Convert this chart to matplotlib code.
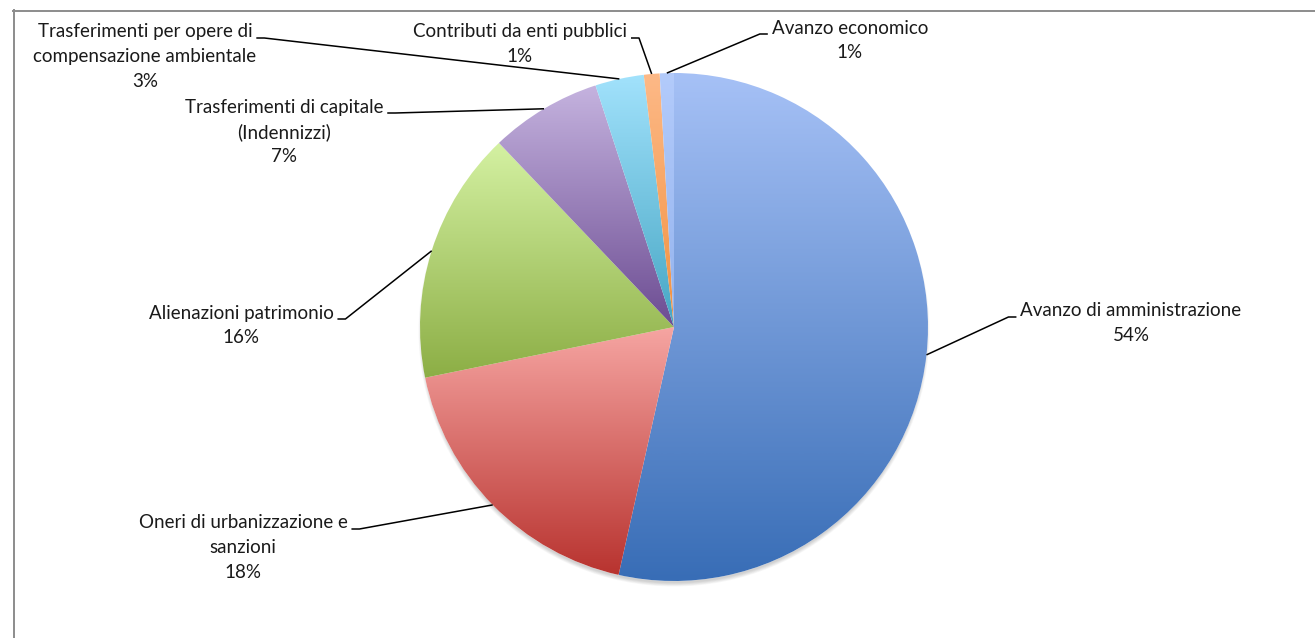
import numpy as np
import matplotlib
matplotlib.use("Agg")
import matplotlib.pyplot as plt
from matplotlib.colors import LinearSegmentedColormap
from matplotlib.patches import Circle
from matplotlib.lines import Line2D

# data (percent shares)
labels = ["Avanzo di amministrazione",
          "Oneri di urbanizzazione e\nsanzioni",
          "Alienazioni patrimonio",
          "Trasferimenti di capitale\n(Indennizzi)",
          "Trasferimenti per opere di\ncompensazione ambientale",
          "Contributi da enti pubblici",
          "Avanzo economico"]
values = [53.5, 18.3, 16.1, 7.1, 3.1, 1.0, 0.9]

# gradient colours, top -> bottom of each slice
top_colors = ["#a6c1f6", "#f6a5a2", "#d4f1a2", "#c5b3df", "#a2e2fc", "#fdb987", "#b3cbfb"]
bot_colors = ["#386db6", "#b8332f", "#8cae45", "#6c4c92", "#46a6c4", "#f2913f", "#93b3ee"]

# label placement in pixels (centre x, first-line y), side of leader line
label_pos = [(1131, 311, "left"), (243, 523, "right"), (241, 313, "right"),
             (284, 107, "right"), (145, 32, "right"), (520, 32, "right"),
             (850, 28, "left")]

W, H = 1315, 638
cx, cy, R = 674, 327, 254

fig = plt.figure(figsize=(W / 100, H / 100), dpi=100)
ax = fig.add_axes([0, 0, 1, 1])
ax.set_axis_off()

# soft shadow under the pie
for i in range(6):
    ax.add_patch(Circle((cx, H - cy - 4), R - 2 + i * 0.7, color="#000000",
                        alpha=0.03, lw=0, zorder=1))
ax.add_patch(Circle((cx, H - cy), R, color="white", lw=0, zorder=1.5))

wedges, _ = ax.pie(values, startangle=90, counterclock=False,
                   center=(cx, H - cy), radius=R,
                   wedgeprops=dict(linewidth=0))

grad = np.linspace(0, 1, 256).reshape(-1, 1)
for w, c0, c1 in zip(wedges, top_colors, bot_colors):
    w.set_facecolor("none")
    w.set_edgecolor("none")
    bb = w.get_path().get_extents()
    cmap = LinearSegmentedColormap.from_list("g", [c0, c1])
    im = ax.imshow(grad, cmap=cmap, extent=(bb.x0, bb.x1, bb.y0, bb.y1),
                   origin="upper", aspect="auto", interpolation="bicubic", zorder=2)
    im.set_clip_path(w)

ax.set_xlim(0, W)
ax.set_ylim(0, H)
ax.set_aspect("equal")

# labels and leader lines
fig.canvas.draw()
renderer = fig.canvas.get_renderer()
font = ["Lato", "DejaVu Sans"]
for w, lab, v, (lx, ly, side) in zip(wedges, labels, values, label_pos):
    lines = lab.split("\n") + [f"{v:.0f}%"]
    texts = []
    for k, s in enumerate(lines):
        t = ax.text(lx, H - (ly + k * 24.8), s, ha="center", va="center",
                    fontsize=13.5, family=font, color="#1a1a1a", zorder=5)
        texts.append(t)
    ext = texts[0].get_window_extent(renderer)
    yy = H - (ly + 6)
    if side == "right":
        x0 = ext.x1 + 4
        x1 = x0 + 8
    else:
        x1 = ext.x0 - 4
        x0 = x1 - 8
    mid = np.deg2rad((w.theta1 + w.theta2) / 2)
    px = cx + R * np.cos(mid)
    py = H - cy + R * np.sin(mid)
    if side == "right":
        xs, ys = [x0, x1, px], [yy, yy, py]
    else:
        xs, ys = [x1, x0, px], [yy, yy, py]
    ax.plot(xs, ys, color="black", lw=1.1, zorder=4, solid_capstyle="butt")

# chart frame (only top and left edges visible)
fig.add_artist(Line2D([13.5 / W, 13.5 / W], [0, 1 - 10 / H], color="#8c8c8c", lw=1.4))
fig.add_artist(Line2D([13 / W, 1], [1 - 10.5 / H, 1 - 10.5 / H], color="#8c8c8c", lw=1.4))

fig.savefig("out.png", dpi=100, facecolor="white")
